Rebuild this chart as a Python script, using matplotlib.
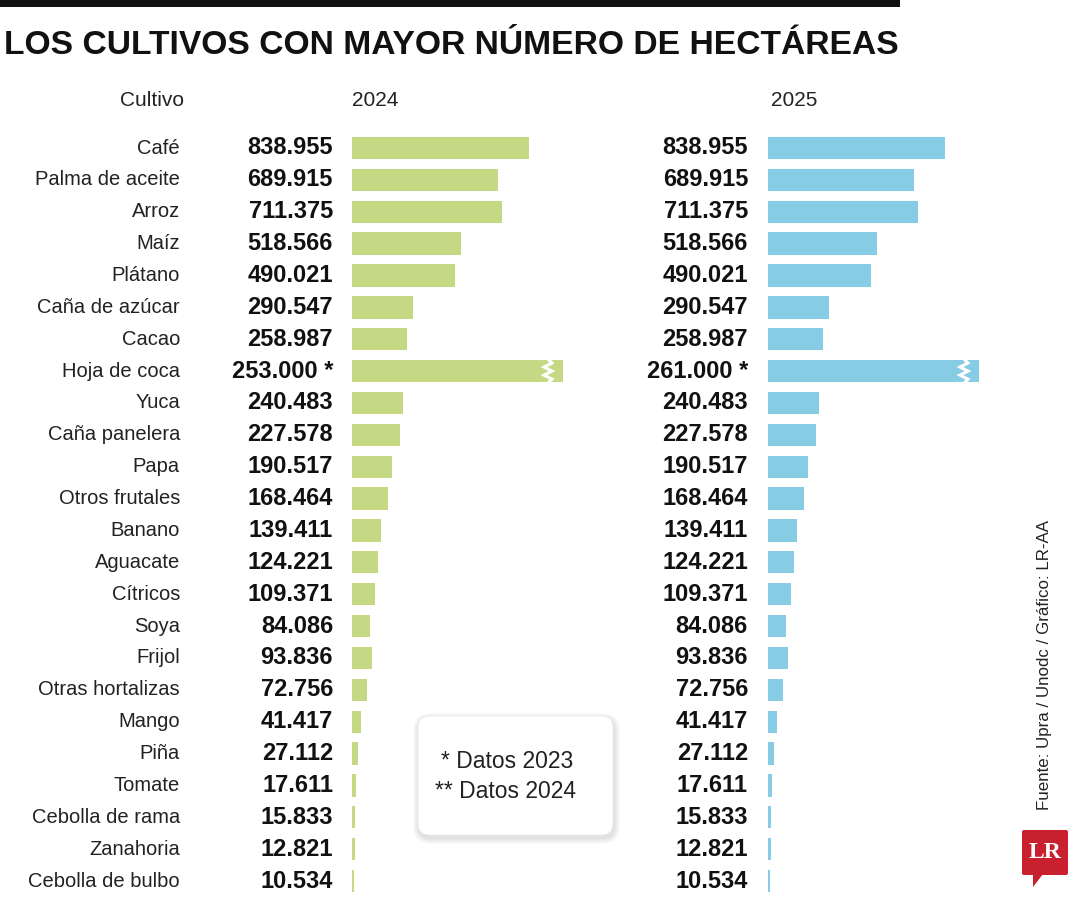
import matplotlib
matplotlib.use('Agg')
import matplotlib.pyplot as plt
from matplotlib.patches import FancyBboxPatch, Rectangle, Polygon

green = '#c5d985'
blue = '#86cce5'
logo_red = '#c8202e'

plt.rcParams['font.family'] = ['Liberation Sans', 'DejaVu Sans']

cultivos = ['Café', 'Palma de aceite', 'Arroz', 'Maíz', 'Plátano', 'Caña de azúcar',
            'Cacao', 'Hoja de coca', 'Yuca', 'Caña panelera', 'Papa', 'Otros frutales',
            'Banano', 'Aguacate', 'Cítricos', 'Soya', 'Frijol', 'Otras hortalizas',
            'Mango', 'Piña', 'Tomate', 'Cebolla de rama', 'Zanahoria', 'Cebolla de bulbo']
ha_2024 = [838955, 689915, 711375, 518566, 490021, 290547, 258987, 253000, 240483,
           227578, 190517, 168464, 139411, 124221, 109371, 84086, 93836, 72756,
           41417, 27112, 17611, 15833, 12821, 10534]
ha_2025 = [838955, 689915, 711375, 518566, 490021, 290547, 258987, 261000, 240483,
           227578, 190517, 168464, 139411, 124221, 109371, 84086, 93836, 72756,
           41417, 27112, 17611, 15833, 12821, 10534]
notas_2024 = ['', '', '', '', '', '', '', ' *', '', '', '', '', '', '', '', '', '', '',
              '', '', '', '', '', '']
notas_2025 = notas_2024
# la barra de hoja de coca va cortada (escala rota)
cortada = [c == 'Hoja de coca' for c in cultivos]
largo_cortada = 1000000


def fmt(v):
	return f'{v:,}'.replace(',', '.')


W, H = 1080, 900
fig = plt.figure(figsize=(10.8, 9), dpi=100)
bg = fig.add_axes([0, 0, 1, 1])
bg.set_xlim(0, W)
bg.set_ylim(H, 0)
bg.axis('off')

row0 = 148
row_h = 31.87
ppu = 177 / 838955  # pixeles por hectarea

# encabezado
bg.add_patch(Rectangle((0, 0), 900, 7, color='#111111', lw=0))
tit = bg.text(4, 46, 'LOS CULTIVOS CON MAYOR NÚMERO DE HECTÁREAS', fontsize=26,
              fontweight='bold', ha='left', va='center', color='#111111')
# ajustar el titulo al ancho de la raya superior
r = fig.canvas.get_renderer()
ancho = tit.get_window_extent(renderer=r).width
tit.set_fontsize(26 * 893 / ancho)

bg.text(184, 100, 'Cultivo', fontsize=15, ha='right', va='center', color='#222222')
bg.text(375, 100, '2024', fontsize=15, ha='center', va='center', color='#222222')
bg.text(794, 100, '2025', fontsize=15, ha='center', va='center', color='#222222')


def panel(left, width, valores, notas, color, x_valor):
	ax = fig.add_axes([left / W, 0, width / W, 1])
	ax.set_xlim(0, width / ppu)
	ax.set_ylim((H - row0) / row_h, -row0 / row_h)
	ax.axis('off')
	ax.patch.set_alpha(0)
	largos = [largo_cortada if c else v for v, c in zip(valores, cortada)]
	ax.barh(range(len(valores)), largos, height=0.7, color=color, lw=0)
	for i, (v, n) in enumerate(zip(valores, notas)):
		y = row0 + row_h * i
		bg.text(x_valor, y, fmt(v) + n, fontsize=17, fontweight='bold',
		        ha='right', va='center', color='#111111')
		if cortada[i]:
			xc = largo_cortada - 15 / ppu
			a = 4 / ppu
			zx = [xc, xc + a, xc - a, xc + a, xc - a, xc + a, xc]
			zy = [i - 0.38 + k * 0.76 / 6 for k in range(7)]
			ax.plot(zx, zy, color='white', lw=2.2, solid_joinstyle='miter')


panel(352, 260, ha_2024, notas_2024, green, 333)
panel(768, 260, ha_2025, notas_2025, blue, 748)

for i, c in enumerate(cultivos):
	bg.text(180, row0 + row_h * i, c, fontsize=14.5, ha='right', va='center', color='#222222')

# recuadro de notas con sombra suave
for k in range(6):
	d = 6 - k
	bg.add_patch(FancyBboxPatch((418 - d + 1, 716 - d + 3), 195 + 2 * d, 119 + 2 * d,
	                            boxstyle='round,pad=0,rounding_size=%d' % (12 + d),
	                            fc='#000000', ec='none', alpha=0.018))
bg.add_patch(FancyBboxPatch((418, 716), 195, 119, boxstyle='round,pad=0,rounding_size=12',
                            fc='white', ec='#ececec', lw=0.6))
bg.text(573, 761, '* Datos 2023', fontsize=16.5, ha='right', va='center', color='#222222')
bg.text(576, 792, '** Datos 2024', fontsize=16.5, ha='right', va='center', color='#222222')

# fuente
bg.text(1045, 810, 'Fuente: Upra / Unodc / Gráfico: LR-AA', fontsize=12.2, rotation=90,
        ha='center', va='bottom', color='#222222')

# logo LR
bg.add_patch(FancyBboxPatch((1022, 830), 46, 45, boxstyle='round,pad=0,rounding_size=2',
                            fc=logo_red, ec='none'))
bg.add_patch(Polygon([(1033, 874), (1043, 874), (1033, 887)], closed=True, fc=logo_red, ec='none'))
bg.text(1045, 853, 'LR', fontsize=17, fontweight='bold', family='Liberation Serif',
        ha='center', va='center', color='white')

fig.savefig('out.png', dpi=100)
